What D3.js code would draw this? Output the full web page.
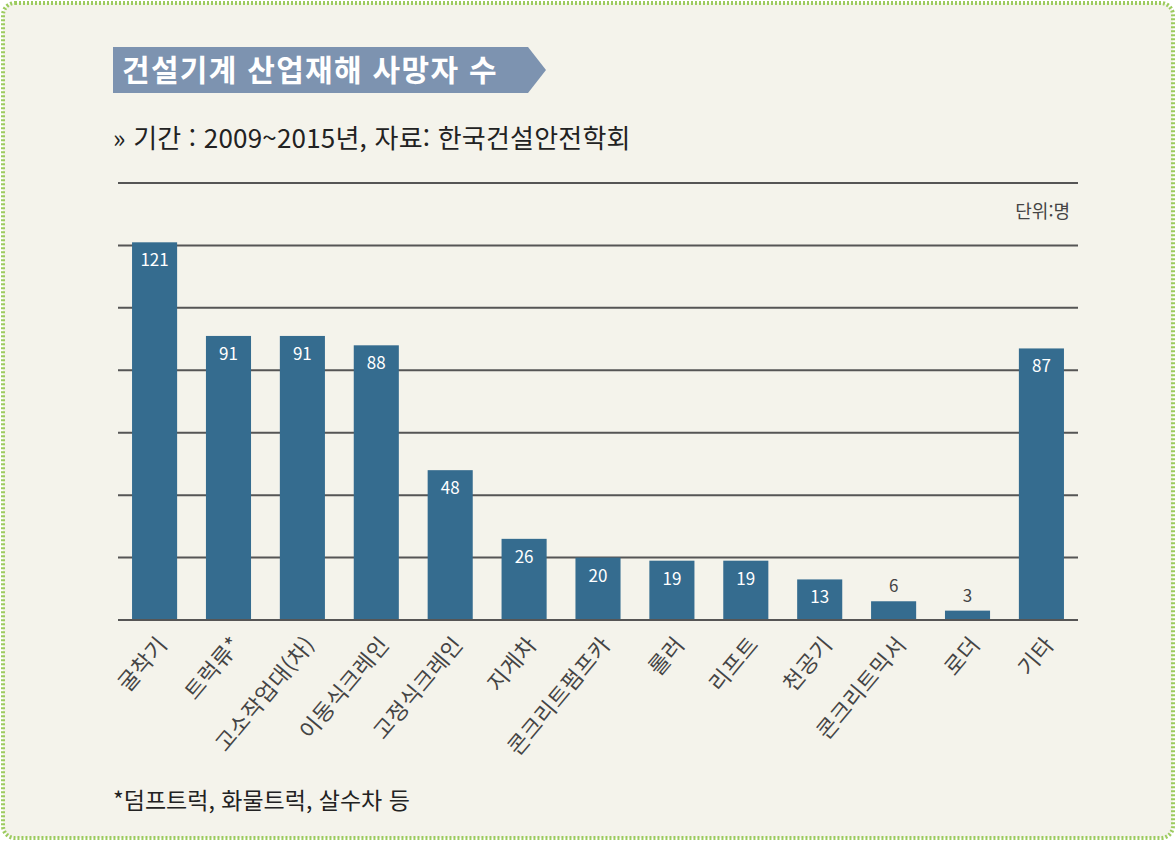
<!DOCTYPE html>
<html lang="ko">
<head>
<meta charset="utf-8">
<title>건설기계 산업재해 사망자 수</title>
<script src="https://d3js.org/d3.v7.min.js"></script>
<style>
  body { margin: 0; background: #fff; }
  svg { display: block; font-family: "Noto Sans CJK KR", "Noto Sans", sans-serif; }
</style>
</head>
<body>
<script>
// data
const categories = ["굴착기", "트럭류*", "고소작업대(차)", "이동식크레인", "고정식크레인", "지게차",
                    "콘크리트펌프카", "롤러", "리프트", "천공기", "콘크리트믹서", "로더", "기타"];
const deaths = [121, 91, 91, 88, 48, 26, 20, 19, 19, 13, 6, 3, 87];
const gridTicks = [0, 20, 40, 60, 80, 100, 120, 140];

const w = 1176, h = 841;

const svg = d3.select("body").append("svg")
    .attr("width", w)
    .attr("height", h);

// panel + dashed green frame
svg.append("rect")
    .attr("x", 3).attr("y", 3)
    .attr("width", w - 6).attr("height", h - 6)
    .attr("rx", 12)
    .attr("fill", "#f4f3eb")
    .attr("stroke", "#9ccb5e")
    .attr("stroke-width", 4)
    .attr("stroke-dasharray", "2,2");

// title banner
svg.append("path")
    .attr("d", "M113,47 L528,47 L546,70 L528,93 L113,93 Z")
    .attr("fill", "#7d93b0");
svg.append("text")
    .attr("x", 122).attr("y", 81)
    .attr("fill", "#fff")
    .attr("font-size", 30)
    .attr("font-weight", "bold")
    .attr("letter-spacing", 1.3)
    .text("건설기계 산업재해 사망자 수");

svg.append("text")
    .attr("x", 113).attr("y", 148)
    .attr("fill", "#222")
    .attr("font-size", 26)
    .attr("letter-spacing", 0.2)
    .text("» 기간 : 2009~2015년, 자료: 한국건설안전학회");

// scales
const x = d3.scaleBand()
    .domain(categories)
    .range([118, 1078])
    .paddingInner(0.39)
    .paddingOuter(0.19);

const y = d3.scaleLinear()
    .domain([0, 140])
    .range([620, 183]);

// gridlines
svg.append("g")
    .selectAll("line")
    .data(gridTicks)
    .join("line")
    .attr("x1", 118).attr("x2", 1078)
    .attr("y1", d => y(d)).attr("y2", d => y(d))
    .attr("stroke", "#555")
    .attr("stroke-width", 2);

svg.append("text")
    .attr("x", 1070).attr("y", 218)
    .attr("text-anchor", "end")
    .attr("fill", "#444")
    .attr("font-size", 18)
    .text("단위:명");

// bars
svg.append("g")
    .selectAll("rect")
    .data(deaths)
    .join("rect")
    .attr("x", (d, i) => x(categories[i]))
    .attr("y", d => y(d))
    .attr("width", x.bandwidth())
    .attr("height", d => y(0) - y(d))
    .attr("fill", "#356c8f");

// baseline over bars
svg.append("line")
    .attr("x1", 118).attr("x2", 1078)
    .attr("y1", y(0)).attr("y2", y(0))
    .attr("stroke", "#555")
    .attr("stroke-width", 2);

// value labels
svg.append("g")
    .selectAll("text")
    .data(deaths)
    .join("text")
    .attr("x", (d, i) => x(categories[i]) + x.bandwidth() / 2)
    .attr("y", d => d < 10 ? y(d) - 9 : y(d) + 24)
    .attr("text-anchor", "middle")
    .attr("font-size", 17)
    .attr("fill", d => d < 10 ? "#444" : "#fff")
    .text(d => d);

// category labels
svg.append("g")
    .selectAll("text")
    .data(categories)
    .join("text")
    .attr("transform", d => "translate(" + (x(d) + x.bandwidth() / 2 + 14) + ",645) rotate(-50)")
    .attr("text-anchor", "end")
    .attr("font-size", 22)
    .attr("letter-spacing", 0.6)
    .attr("fill", "#444")
    .text(d => d);

// footnote
svg.append("text")
    .attr("x", 113).attr("y", 809)
    .attr("fill", "#222")
    .attr("font-size", 23)
    .text("*덤프트럭, 화물트럭, 살수차 등");
</script>
</body>
</html>
